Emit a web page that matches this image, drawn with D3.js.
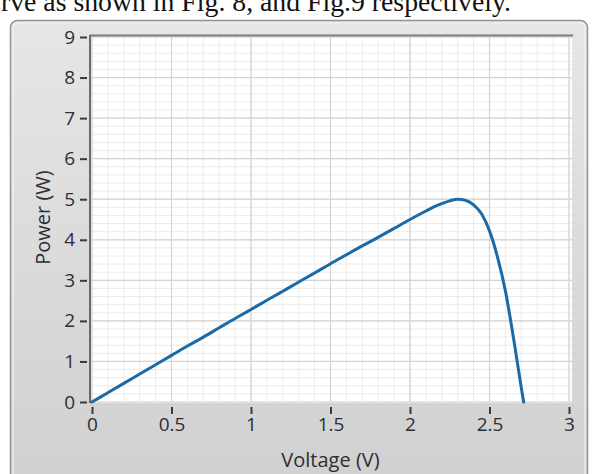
<!DOCTYPE html>
<html>
<head>
<meta charset="utf-8">
<script src="https://cdn.jsdelivr.net/npm/d3@7"></script>
<style>
  html, body { margin: 0; padding: 0; background: #ffffff; }
  svg { display: block; }
</style>
</head>
<body>
<svg id="chart" width="592" height="474"></svg>
<script>
// ---- data ----
const voltage = [0, 0.1, 0.2, 0.3, 0.4, 0.5, 0.6, 0.7, 0.8, 0.9, 1.0, 1.1, 1.2, 1.3, 1.4, 1.5, 1.6, 1.7, 1.8, 1.9, 2.0, 2.1, 2.15, 2.2, 2.25, 2.3, 2.35, 2.4, 2.45, 2.5, 2.55, 2.6, 2.65, 2.7, 2.715];
const power   = [0, 0.23, 0.46, 0.69, 0.92, 1.15, 1.38, 1.6, 1.83, 2.06, 2.28, 2.51, 2.73, 2.96, 3.18, 3.41, 3.63, 3.85, 4.06, 4.28, 4.5, 4.71, 4.81, 4.89, 4.96, 5.0, 4.97, 4.86, 4.64, 4.22, 3.58, 2.74, 1.6, 0.35, 0];
const xTicks = [0, 0.5, 1, 1.5, 2, 2.5, 3];
const xTickLabels = ["0", "0.5", "1", "1.5", "2", "2.5", "3"];
const yTicks = [0, 1, 2, 3, 4, 5, 6, 7, 8, 9];
const yTickLabels = ["0", "1", "2", "3", "4", "5", "6", "7", "8", "9"];
const xTitle = "Voltage (V)";
const yTitle = "Power (W)";
const captionText = "rve as shown in Fig. 8, and Fig.9 respectively.";

const svg = d3.select("#chart");
const plot = { left: 92, right: 569, top: 37, bottom: 402 };

const x = d3.scaleLinear().domain([0, 3]).range([plot.left, plot.right]);
const y = d3.scaleLinear().domain([0, 9]).range([plot.bottom, plot.top]);

// caption (document text cropped by the top edge, as in the reference)
svg.append("text")
  .attr("x", 1).attr("y", 11)
  .attr("font-family", "Liberation Serif, Times New Roman, serif")
  .attr("font-size", 27)
  .attr("textLength", 510)
  .attr("lengthAdjust", "spacingAndGlyphs")
  .attr("fill", "#111")
  .text(captionText);

// panel
const defs = svg.append("defs");
const grad = defs.append("linearGradient").attr("id", "pg").attr("x1", 0).attr("y1", 0).attr("x2", 0).attr("y2", 1);
grad.append("stop").attr("offset", "0%").attr("stop-color", "#e6e6e6");
grad.append("stop").attr("offset", "100%").attr("stop-color", "#d0d0d0");

svg.append("rect")
  .attr("x", 10.5).attr("y", 20.5).attr("width", 577).attr("height", 470)
  .attr("rx", 7).attr("ry", 7)
  .attr("fill", "url(#pg)")
  .attr("stroke", "#959595").attr("stroke-width", 1.5);
svg.append("rect")
  .attr("x", 13).attr("y", 23).attr("width", 572).attr("height", 466)
  .attr("rx", 5).attr("ry", 5)
  .attr("fill", "none")
  .attr("stroke", "#f2f2f2").attr("stroke-width", 1.2);

// plot background
svg.append("rect")
  .attr("x", plot.left - 1).attr("y", plot.top - 1)
  .attr("width", plot.right - plot.left + 4).attr("height", plot.bottom - plot.top + 2)
  .attr("fill", "#ffffff");

// minor grid
const g = svg.append("g");
const xMinor = d3.range(0, 31).map(i => i / 10);
const yMinor = d3.range(0, 46).map(i => i / 5);
g.selectAll("line.xm").data(xMinor).enter().append("line")
  .attr("x1", d => x(d)).attr("x2", d => x(d))
  .attr("y1", plot.top).attr("y2", plot.bottom)
  .attr("stroke", "#ebebeb").attr("stroke-width", 1);
g.selectAll("line.ym").data(yMinor).enter().append("line")
  .attr("x1", plot.left).attr("x2", plot.right + 3)
  .attr("y1", d => y(d)).attr("y2", d => y(d))
  .attr("stroke", "#ebebeb").attr("stroke-width", 1);
// major grid
g.selectAll("line.xM").data(xTicks).enter().append("line")
  .attr("x1", d => x(d)).attr("x2", d => x(d))
  .attr("y1", plot.top).attr("y2", plot.bottom)
  .attr("stroke", "#d4d4d4").attr("stroke-width", 1.2);
g.selectAll("line.yM").data(yTicks).enter().append("line")
  .attr("x1", plot.left).attr("x2", plot.right + 3)
  .attr("y1", d => y(d)).attr("y2", d => y(d))
  .attr("stroke", "#d4d4d4").attr("stroke-width", 1.2);

// plot frame (top inset edge)
svg.append("line")
  .attr("x1", plot.left - 2).attr("x2", plot.right + 4)
  .attr("y1", plot.top - 1.5).attr("y2", plot.top - 1.5)
  .attr("stroke", "#7c7c7c").attr("stroke-width", 2);

const fontFam = "Open Sans, DejaVu Sans, sans-serif";
const txtColor = "#2e2d36";

// y axis
const yAxis = d3.axisLeft(y).tickValues(yTicks)
  .tickFormat((d, i) => yTickLabels[i]).tickSize(10).tickPadding(5);
const ya = svg.append("g").attr("transform", `translate(${plot.left - 2},0)`).call(yAxis);
ya.select(".domain").attr("stroke", "#6a6a6a").attr("stroke-width", 2)
  .attr("d", `M0,${plot.top - 2}V${plot.bottom + 1}`);
ya.selectAll(".tick line").attr("x1", -3).attr("stroke", "#3a3a3a").attr("stroke-width", 2);
ya.selectAll(".tick text").attr("font-family", fontFam).attr("font-size", 19).attr("fill", txtColor);

// x axis
const xAxis = d3.axisBottom(x).tickValues(xTicks)
  .tickFormat((d, i) => xTickLabels[i]).tickSize(7).tickPadding(4);
const xa = svg.append("g").attr("transform", `translate(0,${plot.bottom + 5})`).call(xAxis);
xa.select(".domain").remove();
xa.selectAll(".tick line").attr("stroke", "#3a3a3a").attr("stroke-width", 2);
xa.selectAll(".tick text").attr("font-family", fontFam).attr("font-size", 19).attr("fill", txtColor);

// titles
svg.append("text")
  .attr("x", (plot.left + plot.right) / 2).attr("y", 467)
  .attr("text-anchor", "middle")
  .attr("font-family", fontFam).attr("font-size", 20).attr("fill", txtColor)
  .text(xTitle);
svg.append("text")
  .attr("transform", `translate(50,${(plot.top + plot.bottom) / 2 - 2}) rotate(-90)`)
  .attr("text-anchor", "middle")
  .attr("font-family", fontFam).attr("font-size", 20).attr("fill", txtColor)
  .text(yTitle);

// curve
const pts = voltage.map((v, i) => [v, power[i]]);
const line = d3.line().x(d => x(d[0])).y(d => y(d[1])).curve(d3.curveMonotoneX);
svg.append("path")
  .datum(pts)
  .attr("d", line)
  .attr("fill", "none")
  .attr("stroke", "#1b6aa8")
  .attr("stroke-width", 3)
  .attr("stroke-linejoin", "round")
  .attr("stroke-linecap", "round");
</script>
</body>
</html>
